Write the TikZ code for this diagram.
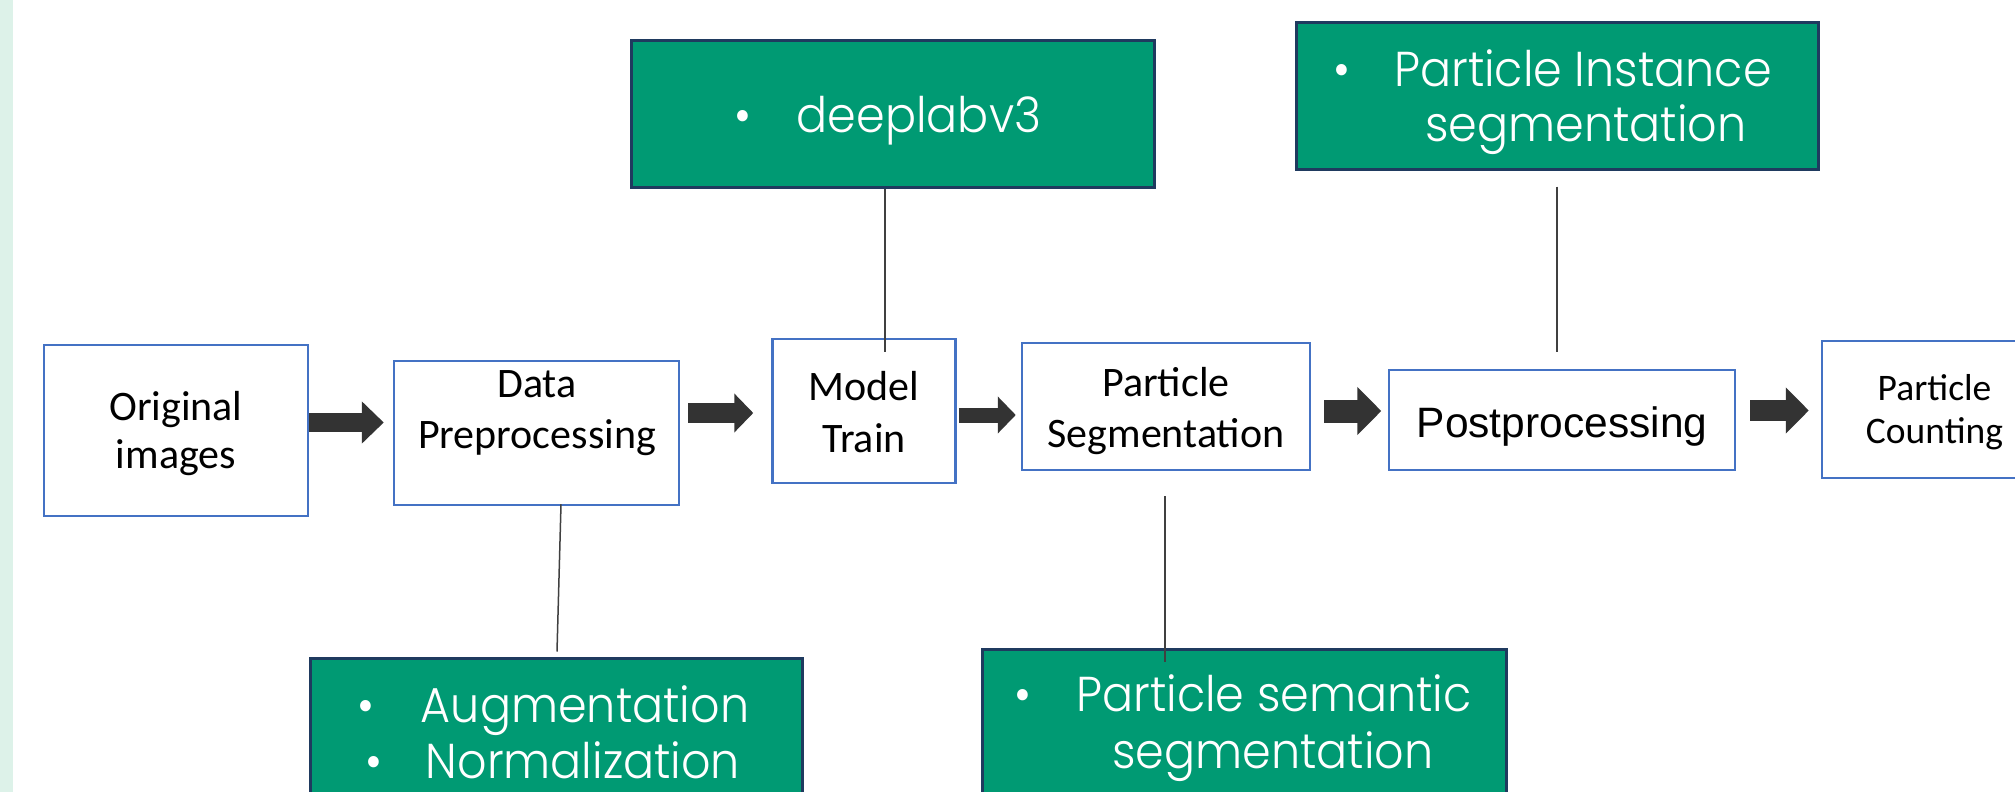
\documentclass[tikz,border=0pt]{standalone}
\usepackage{fontspec}
\setmainfont{Carlito}
\newfontfamily\arialfont{Liberation Sans}
\newfontfamily\gothicfont{Poppins Light}[FakeStretch=0.94]
\usetikzlibrary{arrows.meta,calc}

\definecolor{stepblue}{HTML}{4472C4}
\definecolor{notegreen}{HTML}{009A73}
\definecolor{noteedge}{HTML}{1F3A5F}
\definecolor{arrowgray}{HTML}{333333}
\definecolor{linkgray}{HTML}{404040}
\definecolor{sidemint}{HTML}{DDF2E9}

\tikzset{
  stepbox/.style={draw=stepblue, line width=2.5pt, fill=white, rectangle, inner sep=0pt},
  notebox/.style={draw=noteedge, line width=3pt, fill=notegreen, rectangle, inner sep=0pt,
    minimum height=146pt},
  steptext/.style={anchor=base, inner sep=0pt, font=\fontsize{42}{50}\selectfont},
  notetext/.style={anchor=base, inner sep=0pt, text=white, font=\gothicfont\fontsize{49}{58}\selectfont},
  flowarrow/.style n args={3}{draw=arrowgray, line width=#1pt,
    -{Triangle[length=#3pt,width=#2pt]}},
  link/.style={draw=linkgray, line width=1.5pt}
}

\begin{document}
\begin{tikzpicture}[x=1pt,y=-1pt]
\useasboundingbox (0,0) rectangle (2015,792);
\clip (0,0) rectangle (2015,792);
\fill[white] (0,0) rectangle (2015,792);
\fill[sidemint] (0,0) rectangle (13,792);

% process steps
\node[stepbox, minimum width=264pt, minimum height=171pt] (oi) at (176,430.5) {};
\node[steptext] (oiA) at (176,420) {Original};
\node[steptext] (oiB) at (176,468) {images};

\node[stepbox, minimum width=285pt, minimum height=144pt] (dp) at (536.5,433) {};
\node[steptext] (dpA) at (537,397) {Data};
\node[steptext] (dpB) at (537,448) {Preprocessing};

\node[stepbox, minimum width=183pt, minimum height=144pt] (mt) at (864,411) {};
\node[steptext] (mtA) at (864,400) {Model};
\node[steptext] (mtB) at (864,452) {Train};

\node[stepbox, minimum width=288pt, minimum height=127pt] (ps) at (1166,406.5) {};
\node[steptext] (psA) at (1166,396) {Particle};
\node[steptext] (psB) at (1166,447) {Segmentation};

\node[stepbox, minimum width=346pt, minimum height=100pt] (pp) at (1562,420) {};
\node[steptext, font=\arialfont\fontsize{42.5}{50}\selectfont] (ppA) at (1562,437) {Postprocessing};

\node[stepbox, minimum width=228pt, minimum height=137pt] (pc) at (1936,409.5) {};
\node[steptext, font=\fontsize{37.5}{44}\selectfont] (pcA) at (1934.5,400) {Particle};
\node[steptext, font=\fontsize{37.5}{44}\selectfont] (pcB) at (1934.5,443) {Counting};

% block arrows between the steps
\draw[flowarrow={19}{41}{22}] (oi.east |- 0,422.5) -- ($(dp.west |- 0,422.5)+(-9,0)$);
\draw[flowarrow={20}{38}{19}] ($(dp.east |- 0,413)+(8,0)$) -- ($(mt.west |- 0,413)+(-18,0)$);
\draw[flowarrow={15}{36}{18}] ($(mt.east |- 0,415)+(2,0)$) -- ($(ps.west |- 0,415)+(-5,0)$);
\draw[flowarrow={23}{47}{24}] ($(ps.east |- 0,411)+(13,0)$) -- ($(pp.west |- 0,411)+(-6.5,0)$);
\draw[flowarrow={21}{45}{23}] ($(pp.east |- 0,410.5)+(14,0)$) -- ($(pc.west |- 0,410.5)+(-12,0)$);

% notes
\node[notebox, minimum width=523pt] (dl) at (892.5,114) {};
\node[notetext] (dlB) at (743,132) {•};
\node[notetext] (dlT) at (919,132) {deeplabv3};

\node[notebox, minimum width=522pt] (pi) at (1557,96) {};
\node[notetext] (piB) at (1342,86) {•};
\node[notetext] (piT1) at (1583,86) {Particle Instance};
\node[notetext] (piT2) at (1586,141) {segmentation};

\node[notebox, minimum width=492pt] (au) at (556,731) {};
\node[notetext] (auB1) at (366,722) {•};
\node[notetext] (auT1) at (585,722) {Augmentation};
\node[notetext] (auB2) at (374,778) {•};
\node[notetext] (auT2) at (583,778) {Normalization};

\node[notebox, minimum width=524pt] (ss) at (1244,722) {};
\node[notetext] (ssB) at (1023,711) {•};
\node[notetext] (ssT1) at (1274,711) {Particle semantic};
\node[notetext] (ssT2) at (1273,768) {segmentation};

% thin links between steps and notes
\draw[link] ($(dl.south)+(-7.5,0)$) -- ($(mt.north)+(21,14)$);
\draw[link] ($(pi.south)+(0,16)$) -- ($(pp.north)+(-5,-17)$);
\draw[link] ($(dp.south)+(24.5,-2)$) -- ($(au.north)+(1,-5)$);
\draw[link] ($(ps.south)+(-1,25)$) -- ($(ss.north)+(-79,14)$);
\end{tikzpicture}
\end{document}
